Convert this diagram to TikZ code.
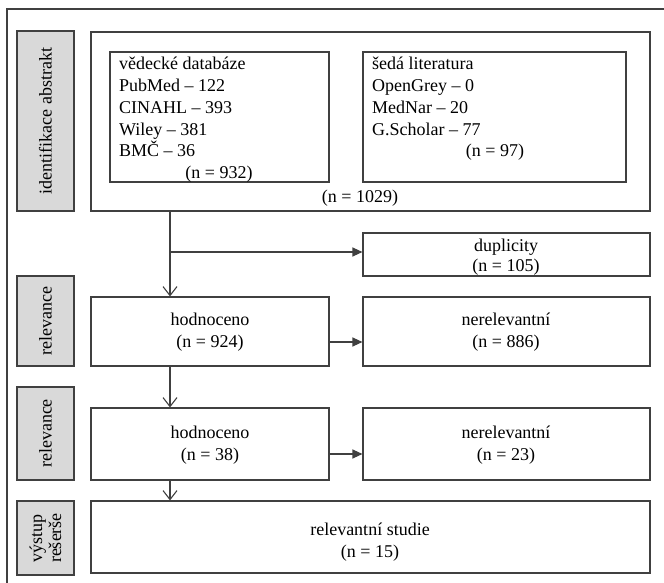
\documentclass[tikz,border=0pt]{standalone}
\usepackage{fontspec}
\setmainfont{Liberation Serif}
\usetikzlibrary{arrows.meta}
\definecolor{ln}{HTML}{404040}
\definecolor{lab}{HTML}{D9D9D9}
\tikzset{
  box/.style={draw=ln, line width=1.1pt, inner sep=0pt},
  labbox/.style={draw=ln, line width=1.1pt, fill=lab, inner sep=0pt},
  txt/.style={inner sep=0pt, anchor=base, font=\fontsize{18}{21.75}\selectfont},
  txtl/.style={inner sep=0pt, anchor=base west, font=\fontsize{18}{21.75}\selectfont},
  rot/.style={inner sep=0pt, rotate=90, align=center, font=\fontsize{18}{19}\selectfont},
  conn/.style={draw=ln, line width=1.1pt},
  openarr/.style={conn, -{Straight Barb[length=9pt,width=14pt,line width=1.1pt]}},
  fillarr/.style={conn, -{Triangle[length=10pt,width=9pt]}}
}
\begin{document}
\begin{tikzpicture}[x=1pt,y=-1pt]
\useasboundingbox (0,0) rectangle (664,583);
\fill[white] (0,0) rectangle (664,583);
% outer frame (only top and left visible)
\coordinate (ftr) at (664,9);
\coordinate (ftl) at (7,9);
\coordinate (fbl) at (7,583);
\draw[conn] (ftr) -- (ftl) -- (fbl);

% gray labels
\node[labbox, minimum width=57pt, minimum height=180pt] (l1) at (45.5,121) {};
\node[rot] (l1t) at (l1.center) {identifikace abstrakt};
\node[labbox, minimum width=57pt, minimum height=90pt] (l2) at (45.5,321) {};
\node[rot] (l2t) at (l2.center) {relevance};
\node[labbox, minimum width=57pt, minimum height=93pt] (l3) at (45.5,433.5) {};
\node[rot] (l3t) at (l3.center) {relevance};
\node[labbox, minimum width=57pt, minimum height=74pt] (l4) at (45.5,538) {};
\node[rot] (l4t) at (l4.center) {výstup\\rešerše};

% identification
\node[box, minimum width=559pt, minimum height=179pt] (big) at (370.5,121.5) {};
\node[box, minimum width=219pt, minimum height=130pt] (ved) at (219.5,117) {};
\node[box, minimum width=263pt, minimum height=130pt] (seda) at (494.5,117) {};
\node[txtl] (v1) at (119,70) {vědecké databáze};
\node[txtl] (v2) at (119,92) {PubMed – 122};
\node[txtl] (v3) at (119,114) {CINAHL – 393};
\node[txtl] (v4) at (119,135.5) {Wiley – 381};
\node[txtl] (v5) at (119,157) {BMČ – 36};
\node[txt] (v6) at (219,178.5) {(n = 932)};
\node[txtl] (s1) at (372,70) {šedá literatura};
\node[txtl] (s2) at (372,92) {OpenGrey – 0};
\node[txtl] (s3) at (372,114) {MedNar – 20};
\node[txtl] (s4) at (372,135.5) {G.Scholar – 77};
\node[txt] (s5) at (495,157) {(n = 97)};
\node[txt] (bt) at (360,202) {(n = 1029)};

% duplicity
\node[box, minimum width=287pt, minimum height=43pt] (dup) at (506.5,254.5) {};
\node[txt] (d1) at (506,251) {duplicity};
\node[txt] (d2) at (506,271.5) {(n = 105)};

% first screening
\node[box, minimum width=238pt, minimum height=69pt] (h1) at (210,331.5) {};
\node[txt] (h1a) at (210,325) {hodnoceno};
\node[txt] (h1b) at (210,347) {(n = 924)};
\node[box, minimum width=287pt, minimum height=69pt] (n1) at (506.5,331.5) {};
\node[txt] (n1a) at (506,325) {nerelevantní};
\node[txt] (n1b) at (506,347) {(n = 886)};

% second screening
\node[box, minimum width=238pt, minimum height=72pt] (h2) at (210,444) {};
\node[txt] (h2a) at (210,438) {hodnoceno};
\node[txt] (h2b) at (210,460) {(n = 38)};
\node[box, minimum width=287pt, minimum height=72pt] (n2) at (506.5,444) {};
\node[txt] (n2a) at (506,438) {nerelevantní};
\node[txt] (n2b) at (506,460) {(n = 23)};

% result
\node[box, minimum width=559pt, minimum height=72pt] (rel) at (370.5,537) {};
\node[txt] (r1) at (370,535) {relevantní studie};
\node[txt] (r2) at (370,557) {(n = 15)};

% connectors
\coordinate (b0) at (170,211);
\coordinate (br) at (170,252);
\draw[openarr] (b0) -- (b0 |- h1.north);
\draw[fillarr] (br) -- (br -| dup.west);
\coordinate (c1) at (170,366);
\draw[openarr] (c1) -- (c1 |- h2.north);
\coordinate (c2) at (170,480);
\draw[openarr] (c2) -- (c2 |- rel.north);
\coordinate (a1) at (329,342);
\draw[fillarr] (a1) -- (a1 -| n1.west);
\coordinate (a2) at (329,454);
\draw[fillarr] (a2) -- (a2 -| n2.west);
\end{tikzpicture}
\end{document}
